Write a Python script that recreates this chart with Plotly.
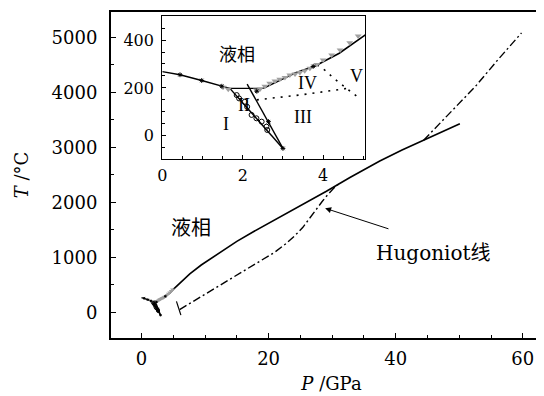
import plotly.graph_objects as go

# ---- data (P in GPa, T in °C) ----
# liquid / ice I boundary
liqI_P = [0.0, 0.44, 0.98, 1.48, 1.68]
liqI_T = [268, 255, 231, 207, 198]
# flat segment liquid / II
flat_P = [1.68, 2.51]
flat_T = [198, 198]
# I / III boundary
b1_P = [1.68, 3.0]
b1_T = [198, -53]
# II / III boundary
b2_P = [2.11, 3.0]
b2_T = [216, -53]
# melting curve
melt_P = [2.51, 2.9, 3.3, 3.8, 4.4, 5.04, 6.2, 7.6, 9.4, 11.3, 13.1, 15.0, 17.6, 20.2, 25.4, 29.1, 32.8, 37.5, 41.0, 44.4, 50.1]
melt_T = [198, 230, 262, 292, 345, 421, 550, 700, 860, 1010, 1150, 1290, 1465, 1630, 1960, 2200, 2450, 2750, 2950, 3130, 3430]
# dotted phase boundaries
dot1_P = [2.35, 3.5, 4.6]
dot1_T = [150, 172, 198]
dot2_P = [3.85, 4.07, 4.24, 4.45, 4.65, 4.85]
dot2_T = [296, 271, 243, 216, 191, 163]
# open circles (experiment)
circ_P = [1.85, 1.91, 2.05, 2.11, 2.22, 2.34, 2.47, 2.59, 2.61]
circ_T = [170, 156, 142, 121, 87, 73, 59, 38, 24]
# gray triangles (experiment)
tri_P = [1.51, 1.64, 2.34, 2.43, 2.55, 2.67, 2.80, 2.92, 3.05, 3.17, 3.30, 3.42, 3.54, 3.67, 3.84, 4.0, 4.21, 4.42, 4.66, 4.87]
tri_T = [203, 194, 191, 195, 207, 219, 229, 236, 244, 254, 258, 264, 272, 282, 298, 317, 338, 359, 389, 417]
# small black markers on lines
mk_P = [0.44, 0.98, 1.48, 2.35, 2.64, 3.75, 3.0]
mk_T = [255, 231, 207, 186, 59, 290, -53]
# Hugoniot
hug1_P = [6.0, 10.75, 14.96, 19.15, 21.0, 22.8, 24.1, 25.4, 26.5, 27.6, 28.4, 29.1, 30.2, 31.0]
hug1_T = [50, 380, 660, 951, 1095, 1254, 1390, 1545, 1720, 1890, 2010, 2110, 2250, 2330]
hug0_P = [5.5, 6.2]
hug0_T = [200, -50]
hug2_P = [44.4, 48, 52.5, 56, 59.8]
hug2_T = [3130, 3560, 4100, 4580, 5080]

x_ticks = [0, 20, 40, 60]
y_ticks = [0, 1000, 2000, 3000, 4000, 5000]
ix_ticks = [0, 2, 4]
iy_ticks = [0, 200, 400]

SERIF = "DejaVu Serif"
fig = go.Figure()

def add_lines(xa, ya, main):
    w = 1.4
    for P, T in [(liqI_P, liqI_T), (flat_P, flat_T), (b1_P, b1_T), (b2_P, b2_T)]:
        fig.add_trace(go.Scatter(x=P, y=T, mode="lines", line=dict(color="black", width=w),
                                 xaxis=xa, yaxis=ya, showlegend=False, hoverinfo="skip"))
    fig.add_trace(go.Scatter(x=melt_P, y=melt_T, mode="lines",
                             line=dict(color="black", width=1.6),
                             xaxis=xa, yaxis=ya, showlegend=False, hoverinfo="skip"))
    if not main:
        for P, T in [(dot1_P, dot1_T), (dot2_P, dot2_T)]:
            fig.add_trace(go.Scatter(x=P, y=T, mode="lines", line=dict(color="black", width=1.6, dash="2px,6px"),
                                     xaxis=xa, yaxis=ya, showlegend=False, hoverinfo="skip"))
    s = 6 if not main else 4
    fig.add_trace(go.Scatter(x=tri_P, y=tri_T, mode="markers",
                             marker=dict(symbol="triangle-down", size=s, color="#a0a0a0"),
                             xaxis=xa, yaxis=ya, showlegend=False, hoverinfo="skip"))
    fig.add_trace(go.Scatter(x=circ_P, y=circ_T, mode="markers",
                             marker=dict(symbol="circle-open", size=s - 1, color="black", line=dict(width=1)),
                             xaxis=xa, yaxis=ya, showlegend=False, hoverinfo="skip"))
    fig.add_trace(go.Scatter(x=mk_P, y=mk_T, mode="markers",
                             marker=dict(symbol="asterisk-open", size=s - 2, color="black", line=dict(width=1)),
                             xaxis=xa, yaxis=ya, showlegend=False, hoverinfo="skip"))

add_lines("x", "y", True)
for P, T in [(hug1_P, hug1_T), (hug2_P, hug2_T)]:
    fig.add_trace(go.Scatter(x=P, y=T, mode="lines",
                             line=dict(color="black", width=1.4, dash="8px,3px,2px,3px"),
                             showlegend=False, hoverinfo="skip"))
fig.add_trace(go.Scatter(x=hug0_P, y=hug0_T, mode="lines", line=dict(color="black", width=1.2),
                         showlegend=False, hoverinfo="skip"))
add_lines("x2", "y2", False)

axis_common = dict(showgrid=False, zeroline=False, ticks="inside", color="black",
                   showline=True, linecolor="black")

# the page body has an 8px margin; paper size / margins compensate for it
fig.update_layout(
    width=544, height=388, margin=dict(l=103, r=0, t=4, b=58),
    paper_bgcolor="white", plot_bgcolor="white",
    font=dict(family=SERIF, color="black", size=18),
    xaxis=dict(range=[-4.8, 64.6], tickvals=x_ticks, ticklen=5, tickwidth=1.2, linewidth=2, mirror=True,
               minor=dict(dtick=5, tick0=0, ticklen=3, ticks="inside", tickcolor="black"),
               tickfont=dict(size=18, family=SERIF), ticklabelstandoff=3,
               title=dict(text="<i>P</i> /GPa", font=dict(size=18, family=SERIF), standoff=10),
               **axis_common),
    yaxis=dict(range=[-467, 5460], tickvals=y_ticks, ticklen=5, tickwidth=1.2, linewidth=2,
               minor=dict(dtick=500, tick0=0, ticklen=3, ticks="inside", tickcolor="black"),
               tickfont=dict(size=18, family=SERIF), ticklabelstandoff=8,
               title=dict(text="<i>T</i> /°C", font=dict(size=18, family=SERIF), standoff=18),
               **axis_common),
    xaxis2=dict(domain=[0.1163, 0.576], anchor="y2", range=[0, 5.04], tickvals=ix_ticks,
                ticklen=4, linewidth=1.2, mirror=True,
                minor=dict(dtick=0.5, tick0=0, ticklen=3, ticks="inside", tickcolor="black"),
                tickfont=dict(size=16, family=SERIF), ticklabelstandoff=2,
                **axis_common),
    yaxis2=dict(domain=[0.55, 0.9887], anchor="x2", range=[-96, 502], tickvals=iy_ticks,
                ticklen=4, linewidth=1.2, mirror=True,
                minor=dict(dtick=50, tick0=0, ticklen=3, ticks="inside", tickcolor="black"),
                tickfont=dict(size=16, family=SERIF), ticklabelstandoff=4,
                **axis_common),
)

# inset labels
inset_labels = [("液相", 1.86, 346, 18), ("I", 1.58, 49, 18), ("II", 2.03, 128, 18),
                ("III", 3.5, 78, 18), ("IV", 3.62, 220, 18), ("V", 4.84, 250, 18)]
for txt, px, ty, fs in inset_labels:
    fam = "Noto Sans CJK SC" if txt == "液相" else "Liberation Serif"
    fig.add_annotation(x=px, y=ty, xref="x2", yref="y2", text=txt, showarrow=False,
                       font=dict(size=fs, family=fam, color="black"))

fig.add_annotation(x=7.85, y=1569, xref="x", yref="y", text="液相", showarrow=False,
                   font=dict(size=20, family="Noto Sans CJK SC", color="black"))
fig.add_annotation(x=28.9, y=1891, ax=39.1, ay=1509, xref="x", yref="y", axref="x", ayref="y",
                   text="", showarrow=True, arrowhead=2, arrowsize=1.2, arrowwidth=1, arrowcolor="black")
fig.add_annotation(x=46.0, y=1102, xref="x", yref="y",
                   text="<span style='font-family:DejaVu Serif'>Hugoniot</span>线", showarrow=False,
                   font=dict(size=20, family="Noto Sans CJK SC", color="black"))

fig.write_html("out.html")
